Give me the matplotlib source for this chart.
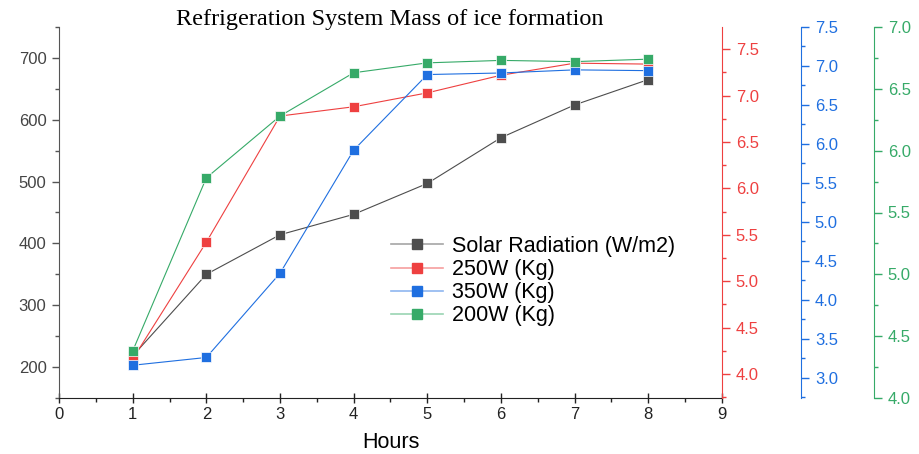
import matplotlib
matplotlib.use("Agg")
import matplotlib.pyplot as plt
from matplotlib.lines import Line2D
from matplotlib.legend_handler import HandlerTuple
from matplotlib.ticker import MultipleLocator, FormatStrFormatter

# data
hours = [1, 2, 3, 4, 5, 6, 7, 8]
solar = [218, 350, 414, 447, 497, 571, 624, 665]
w250 = [4.16, 5.42, 6.78, 6.88, 7.03, 7.22, 7.35, 7.34]
w350 = [3.16, 3.26, 4.34, 5.92, 6.89, 6.91, 6.95, 6.94]
w200 = [4.38, 5.78, 6.28, 6.63, 6.71, 6.73, 6.72, 6.74]

labels = ["Solar Radiation (W/m2)", "250W (Kg)", "350W (Kg)", "200W (Kg)"]
c_black = "#4d4d4d"
c_red = "#ee4040"
c_blue = "#1f6fe0"
c_green = "#36aa68"

plt.rcParams["font.family"] = ["Liberation Sans", "DejaVu Sans"]
tick_fs = 12

fig = plt.figure(figsize=(9.19, 4.54), dpi=100)
ax = fig.add_axes([59 / 919, 1 - 398 / 454, 663 / 919, 371 / 454])
ax_r = ax.twinx()
ax_b = ax.twinx()
ax_g = ax.twinx()

ax_b.spines["right"].set_position(("axes", 742 / 663))
ax_g.spines["right"].set_position(("axes", 815 / 663))

kw = dict(marker="s", markersize=7, markeredgecolor="white", markeredgewidth=0.5,
          linewidth=0.8)
ax.plot(hours, solar, color=c_black, **kw)
ax_r.plot(hours, w250, color=c_red, **kw)
ax_b.plot(hours, w350, color=c_blue, **kw)
ax_g.plot(hours, w200, color=c_green, **kw)

# main axes
ax.set_xlim(0, 9)
ax.set_ylim(150, 750)
ax.xaxis.set_major_locator(MultipleLocator(1))
ax.xaxis.set_minor_locator(MultipleLocator(0.5))
ax.yaxis.set_major_locator(MultipleLocator(100))
ax.yaxis.set_minor_locator(MultipleLocator(50))
for s in ["top", "right"]:
    ax.spines[s].set_visible(False)
ax.spines["left"].set_color("#555555")
ax.spines["bottom"].set_color("#222222")
ax.tick_params(axis="y", which="major", direction="out", length=5, width=1,
               color="#555555", labelcolor="#444444", labelsize=tick_fs, pad=4)
ax.tick_params(axis="y", which="minor", direction="out", length=3, width=1, color="#555555")
ax.tick_params(axis="x", which="major", direction="inout", length=7, width=1,
               color="#222222", labelcolor="#222222", labelsize=tick_fs, pad=3)
ax.tick_params(axis="x", which="minor", direction="out", length=3, width=1, color="#222222")
ax.set_xlabel("Hours", fontsize=15.5, labelpad=7)

# right axes
for a, col, lim in [(ax_r, c_red, (3.74, 7.74)),
                    (ax_b, c_blue, (2.74, 7.5)),
                    (ax_g, c_green, (4.0, 7.0))]:
    for s in ["top", "left", "bottom"]:
        a.spines[s].set_visible(False)
    a.spines["right"].set_color(col)
    a.set_ylim(*lim)
    a.yaxis.set_major_locator(MultipleLocator(0.5))
    a.yaxis.set_minor_locator(MultipleLocator(0.25))
    a.yaxis.set_major_formatter(FormatStrFormatter("%.1f"))
    a.tick_params(axis="y", which="major", direction="out", length=6, width=1,
                  color=col, labelcolor=col, labelsize=tick_fs, pad=4)
    a.tick_params(axis="y", which="minor", direction="out", length=3, width=1, color=col)

fig.text(390 / 919, 1 - 19 / 454, "Refrigeration System Mass of ice formation",
         ha="center", va="center", fontsize=17.5,
         family=["Liberation Serif", "DejaVu Serif"])

# legend: faint line with solid square marker
handles = []
for col in [c_black, c_red, c_blue, c_green]:
    ln = Line2D([], [], color=col, linewidth=1.2, alpha=0.5)
    mk = Line2D([], [], color=col, marker="s", markersize=7, linestyle="none")
    handles.append((ln, mk))
ax_g.legend(handles, labels, handler_map={tuple: HandlerTuple(ndivide=1)},
            loc="upper left", bbox_to_anchor=(391 / 919, 1 - 236 / 454),
            bbox_transform=fig.transFigure, frameon=False, fontsize=15.5,
            borderpad=0, borderaxespad=0, labelspacing=0.1,
            handlelength=2.4, handletextpad=0.42)

fig.savefig("out.png", dpi=100)
